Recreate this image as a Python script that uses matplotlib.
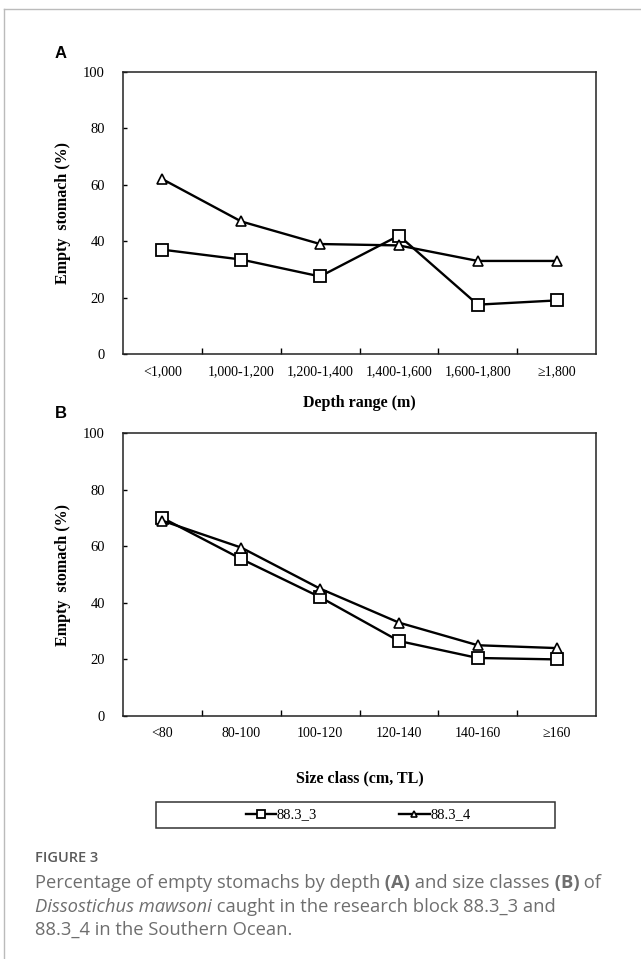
import matplotlib
matplotlib.use("Agg")
import matplotlib.pyplot as plt
from matplotlib.patches import Rectangle
from matplotlib.lines import Line2D

# data
depth_labels = ['<1,000', '1,000-1,200', '1,200-1,400', '1,400-1,600', '1,600-1,800', '\u22651,800']
depth_883_3 = [37, 33.5, 27.5, 42, 17.5, 19]
depth_883_4 = [62, 47, 39, 38.5, 33, 33]

size_labels = ['<80', '80-100', '100-120', '120-140', '140-160', '\u2265160']
size_883_3 = [70, 55.5, 42, 26.5, 20.5, 20]
size_883_4 = [69, 59.5, 45, 33, 25, 24]

series_names = ['88.3_3', '88.3_4']
y_ticks = [0, 20, 40, 60, 80, 100]

SERIF = ['Liberation Serif', 'DejaVu Serif']
SANS = ['Open Sans', 'DejaVu Sans']

W, H = 641, 959
fig = plt.figure(figsize=(W / 100, H / 100), dpi=100)


# helper: pixel box -> figure fraction
def fbox(x0, y0, x1, y1):
    return [x0 / W, 1 - y1 / H, (x1 - x0) / W, (y1 - y0) / H]


def draw_panel(rect, labels, s3, s4, xlabel, xlabelpad):
    ax = fig.add_axes(rect)
    x = [i + 0.5 for i in range(len(labels))]
    ax.plot(x, s3, color='black', lw=1.7, marker='s', ms=8.5, mfc='white',
            mec='black', mew=1.3, label=series_names[0], zorder=3)
    ax.plot(x, s4, color='black', lw=1.7, marker='^', ms=7, mfc='white',
            mec='black', mew=1.2, label=series_names[1], zorder=3)
    ax.set_xlim(0, len(labels))
    ax.set_ylim(0, 100)
    ax.set_yticks(y_ticks)
    # category boundaries get the ticks, names sit in between
    ax.set_xticks(range(1, len(labels)))
    ax.set_xticklabels([])
    ax.set_xticks(x, minor=True)
    ax.set_xticklabels(labels, minor=True, family=SERIF, fontsize=10)
    ax.tick_params(axis='x', which='major', direction='in', length=4, width=1)
    ax.tick_params(axis='x', which='minor', length=0, pad=8)
    ax.tick_params(axis='y', direction='in', length=3, width=1, pad=13)
    for lab in ax.get_yticklabels():
        lab.set_family(SERIF)
        lab.set_fontsize(10.5)
    for sp in ax.spines.values():
        sp.set_linewidth(1.1)
        sp.set_color('#222222')
    ax.set_ylabel('Empty  stomach (%)', family=SERIF, fontsize=11.5,
                  fontweight='bold', labelpad=9)
    ax.set_xlabel(xlabel, family=SERIF, fontsize=11.5, fontweight='bold',
                  labelpad=xlabelpad)
    return ax


axA = draw_panel(fbox(123, 72, 596, 354), depth_labels, depth_883_3, depth_883_4,
                 'Depth range (m)', 12)
axB = draw_panel(fbox(123, 433, 596, 716), size_labels, size_883_3, size_883_4,
                 'Size class (cm, TL)', 22)

fig.text(61 / W, 1 - 53 / H, 'A', family=['Liberation Sans'], fontweight='bold',
         fontsize=12, ha='center', va='center')
fig.text(61 / W, 1 - 413 / H, 'B', family=['Liberation Sans'], fontweight='bold',
         fontsize=12, ha='center', va='center')

# legend in a separate box below panel B
fig.add_artist(Rectangle((156 / W, 1 - 828 / H), (555 - 156) / W, 26 / H,
                         transform=fig.transFigure, fill=False, ec='#333333', lw=1.1))
handles, names = axB.get_legend_handles_labels()
fig.legend(handles, names, loc='center', bbox_to_anchor=(358 / W, 1 - 815 / H),
           ncol=2, frameon=False, prop={'family': SERIF, 'size': 10.5},
           handlelength=2.1, handletextpad=0.05, columnspacing=5.6, markerscale=0.7)

# light frame around the figure
fig.add_artist(Line2D([4 / W, 1], [1 - 9 / H, 1 - 9 / H], transform=fig.transFigure,
                      color='#bbbbbb', lw=1))
fig.add_artist(Line2D([4 / W, 4 / W], [0, 1 - 9 / H], transform=fig.transFigure,
                      color='#bbbbbb', lw=1))

# caption
cap_color = '#6e6e6e'
cap_x = 35 / W
fig.text(cap_x, 1 - 858 / H, 'FIGURE 3', family=SANS, fontsize=10.5,
         color='#5a5a5a', va='center', fontweight='semibold')


# one caption line, pieces chained left to right
def caption_line(y_px, pieces):
    prev = None
    for txt, style in pieces:
        kw = dict(family=SANS, fontsize=13.2, color=cap_color)
        if style == 'b':
            kw['fontweight'] = 'bold'
        elif style == 'i':
            kw['style'] = 'italic'
        if prev is None:
            prev = fig.text(cap_x, 1 - y_px / H, txt, va='baseline', **kw)
        else:
            prev = fig.axes[0].annotate(txt, xy=(1, 0), xycoords=prev, va='bottom',
                                        annotation_clip=False, **kw)


caption_line(888, [('Percentage of empty stomachs by depth', 'r'), (' (A)', 'b'),
                   (' and size classes', 'r'), (' (B)', 'b'), (' of', 'r')])
caption_line(912, [('Dissostichus mawsoni', 'i'),
                   (' caught in the research block 88.3_3 and', 'r')])
caption_line(935, [('88.3_4 in the Southern Ocean.', 'r')])

fig.savefig('out.png', dpi=100)
